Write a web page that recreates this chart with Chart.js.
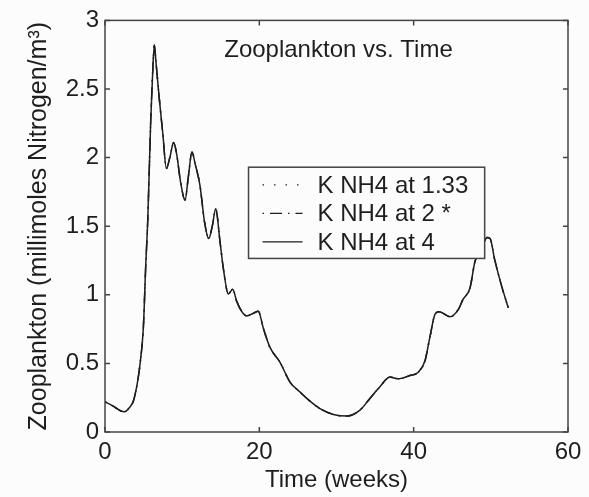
<!DOCTYPE html>
<html>
<head>
<meta charset="utf-8">
<script src="https://cdn.jsdelivr.net/npm/chart.js@4.4.1/dist/chart.umd.min.js"></script>
<style>
  html, body { margin: 0; padding: 0; background: #fcfcfc; }
  #wrap { width: 589px; height: 497px; position: relative; }
</style>
</head>
<body>
<div id="wrap"><canvas id="c" width="589" height="497"></canvas></div>
<script>
// ---- data ----
const chartTitle = "Zooplankton vs. Time";
const xTitle = "Time (weeks)";
const yTitle = "Zooplankton (millimoles Nitrogen/m\u00B3)";
const seriesLabels = ["K NH4 at 1.33", "K NH4 at 2 *", "K NH4 at 4"];
const weeks = [0, 1, 2, 2.5, 3.2, 3.7, 4.2, 4.55, 4.97, 5.27, 5.55, 5.92, 6.2, 6.4, 6.6, 7.0, 7.5, 7.95,
  8.4, 8.9, 9.3, 9.8, 10.37, 10.8, 11.27, 11.7, 12.3, 12.9, 13.45, 13.9, 14.35, 14.9, 15.33, 15.98,
  16.55, 17.06, 17.7, 18.36, 19.2, 19.87, 20.5, 21.38, 22.68, 23.97, 25.27, 26.56, 27.86, 29.59,
  31.32, 33.04, 34.3, 35.6, 36.93, 38.0, 39.5, 40.6, 41.47, 42.1, 42.76, 43.3, 44.7, 45.8, 46.4,
  47.3, 47.95, 48.8, 49.5, 49.9, 50.5, 51.4, 52.26];
const zooK133 = [0.22, 0.19, 0.155, 0.147, 0.18, 0.23, 0.36, 0.50, 0.76, 1.20, 1.56, 2.26, 2.65, 2.82, 2.70, 2.45, 2.17, 1.92,
  2.0, 2.11, 2.02, 1.82, 1.69, 1.86, 2.04, 1.95, 1.80, 1.53, 1.41, 1.50, 1.625, 1.39, 1.195, 1.007,
  1.04, 0.954, 0.88, 0.846, 0.865, 0.88, 0.76, 0.617, 0.508, 0.364, 0.291, 0.225, 0.171, 0.128,
  0.116, 0.159, 0.243, 0.328, 0.40, 0.388, 0.412, 0.436, 0.52, 0.69, 0.858, 0.877, 0.84, 0.894, 0.967,
  1.05, 1.244, 1.328, 1.417, 1.41, 1.256, 1.063, 0.906];
// the three curves coincide in the reference
const zooK2 = zooK133.slice();
const zooK4 = zooK133.slice();
const xTicks = [0, 20, 40, 60];
const yTicks = [0, 0.5, 1, 1.5, 2, 2.5, 3];

const FONT = "'Liberation Sans', Arial, Helvetica, sans-serif";
const INK = "#1e1e1e";
const AXIS = "#444444";

function pts(ys) { return weeks.map((w, i) => ({ x: w, y: ys[i] })); }

const dashes = [[1.5, 10], [1.5, 6, 12, 6], []];

const boxAndTicks = {
  id: 'boxAndTicks',
  beforeDraw(chart) {
    const { ctx } = chart;
    ctx.save();
    ctx.fillStyle = '#fcfcfc';
    ctx.fillRect(0, 0, chart.width, chart.height);
    ctx.restore();
  },
  afterDatasetsDraw(chart) {
    const { ctx, chartArea: a, scales } = chart;
    ctx.save();
    ctx.strokeStyle = AXIS;
    ctx.lineWidth = 1.5;
    ctx.strokeRect(a.left, a.top, a.right - a.left, a.bottom - a.top);
    const tl = 5;
    ctx.beginPath();
    xTicks.forEach(v => {
      const px = scales.x.getPixelForValue(v);
      ctx.moveTo(px, a.bottom); ctx.lineTo(px, a.bottom - tl);
      ctx.moveTo(px, a.top); ctx.lineTo(px, a.top + tl);
    });
    yTicks.forEach(v => {
      const py = scales.y.getPixelForValue(v);
      ctx.moveTo(a.left, py); ctx.lineTo(a.left + tl, py);
      ctx.moveTo(a.right, py); ctx.lineTo(a.right - tl, py);
    });
    ctx.stroke();

    // title inside plot
    ctx.fillStyle = INK;
    ctx.font = "24px " + FONT;
    ctx.textAlign = 'center';
    ctx.textBaseline = 'middle';
    ctx.fillText(chartTitle, (a.left + a.right) / 2 + 2, a.top + 30);

    // legend box
    const lx = scales.x.getPixelForValue(18.6), rx = scales.x.getPixelForValue(49.2);
    const ty = scales.y.getPixelForValue(1.93), by = scales.y.getPixelForValue(1.265);
    ctx.fillStyle = '#fcfcfc';
    ctx.fillRect(lx, ty, rx - lx, by - ty);
    ctx.strokeStyle = AXIS;
    ctx.lineWidth = 1.5;
    ctx.strokeRect(lx, ty, rx - lx, by - ty);
    const rowH = (by - ty) / 3.2;
    chart.data.datasets.forEach((ds, i) => {
      const y = ty + rowH * (i + 0.62);
      ctx.save();
      ctx.strokeStyle = ds.borderColor;
      ctx.lineWidth = 1.3;
      ctx.setLineDash(ds.borderDash || []);
      ctx.beginPath();
      ctx.moveTo(lx + 14, y); ctx.lineTo(lx + 54, y);
      ctx.stroke();
      ctx.restore();
      ctx.fillStyle = INK;
      ctx.font = "24px " + FONT;
      ctx.textAlign = 'left';
      ctx.textBaseline = 'middle';
      ctx.fillText(ds.label, lx + 69, y + 1);
    });
    ctx.restore();
  }
};

new Chart(document.getElementById('c'), {
  type: 'line',
  data: {
    datasets: [zooK133, zooK2, zooK4].map((ys, i) => ({
      label: seriesLabels[i],
      data: pts(ys),
      borderColor: INK,
      borderWidth: 1.5,
      borderDash: dashes[i],
      pointRadius: 0,
      fill: false,
      cubicInterpolationMode: 'monotone'
    }))
  },
  options: {
    responsive: false,
    animation: false,
    events: [],
    layout: { padding: { top: 17, right: 21, left: 0, bottom: 0 } },
    plugins: { legend: { display: false }, title: { display: false }, tooltip: { enabled: false } },
    scales: {
      x: {
        type: 'linear', min: 0, max: 60,
        afterBuildTicks(s) { s.ticks = xTicks.map(v => ({ value: v })); },
        afterFit(s) { s.height = 65; },
        grid: { display: false, drawTicks: false },
        border: { display: false },
        ticks: { color: INK, font: { family: FONT, size: 24 }, padding: 6, maxRotation: 0,
                 callback: v => String(v) },
        title: { display: true, text: xTitle, color: INK, font: { family: FONT, size: 24 },
                 padding: { top: 0, bottom: 2 } }
      },
      y: {
        type: 'linear', min: 0, max: 3,
        afterBuildTicks(s) { s.ticks = yTicks.map(v => ({ value: v })); },
        afterFit(s) { s.width = 105; },
        grid: { display: false, drawTicks: false },
        border: { display: false },
        ticks: { color: INK, font: { family: FONT, size: 24 }, padding: 6,
                 callback: v => String(+v.toFixed(2)) },
        title: { display: true, text: yTitle, color: INK, font: { family: FONT, size: 25 },
                 padding: { top: 24, bottom: 0 } }
      }
    }
  },
  plugins: [boxAndTicks]
});
</script>
</body>
</html>
